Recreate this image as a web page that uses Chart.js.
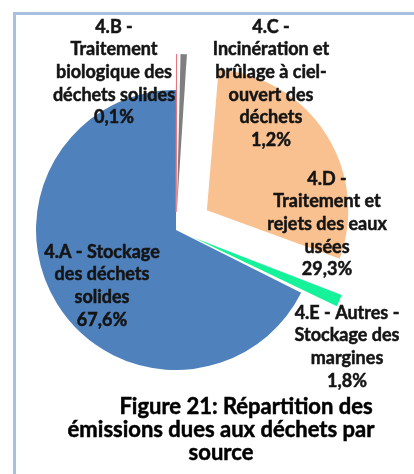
<!DOCTYPE html>
<html>
<head>
<meta charset="utf-8">
<script src="https://cdn.jsdelivr.net/npm/chart.js@4.4.1/dist/chart.umd.min.js"></script>
<style>
  body { margin: 0; background: #fff; }
  #wrap { position: relative; width: 414px; height: 474px; }
  #frame { position: absolute; left: 13px; top: 12px; width: 401px; height: 462px;
           border-top: 3px solid #a9bfe0; border-left: 3px solid #a9bfe0; box-sizing: border-box; }
  canvas { position: absolute; left: 0; top: 0; }
</style>
</head>
<body>
<div id="wrap">
  <div id="frame"></div>
  <canvas id="pie" width="414" height="474"></canvas>
</div>
<script>
const categories = [
    ['4.A - Stockage', 'des déchets', 'solides'],
    ['4.B -', 'Traitement', 'biologique des', 'déchets solides'],
    ['4.C -', 'Incinération et', 'brûlage à ciel-', 'ouvert des', 'déchets'],
    ['4.D -', 'Traitement et', 'rejets des eaux', 'usées'],
    ['4.E - Autres -', 'Stockage des', 'margines']
];
const values = [67.6, 0.1, 1.2, 29.3, 1.8];
const colors = ['#4f81bd', '#e8737a', '#7f7f7f', '#f9c190', '#16f29a'];
const caption = ['Figure 21: Répartition des', 'émissions dues aux déchets par', 'source'];

// how far each slice is pulled out, in px
const explode = [0, 36, 36, 38, 38];

// label block anchors (centre x, first line y)
const labelPos = [
    { x: 102, y: 252 },
    { x: 114, y: 27 },
    { x: 271, y: 27 },
    { x: 327, y: 179 },
    { x: 347, y: 313 }
];
const lineH = 22.6;

function fmt(v) {
    return v.toFixed(1).replace('.', ',') + '%';
}

const total = values.reduce((a, b) => a + b, 0);

// chart.js moves an arc by offset/4 * (2 - sin(circumference)), undo that
const offsets = values.map((v, i) => {
    const circ = Math.min(Math.PI, 2 * Math.PI * v / total);
    return 4 * explode[i] / (2 - Math.sin(circ));
});

function heavyText(ctx, t, x, y) {
    ctx.strokeText(t, x, y);
    ctx.fillText(t, x, y);
}

const sliceLabels = {
    id: 'sliceLabels',
    afterDatasetsDraw(chart) {
        const ctx = chart.ctx;
        ctx.save();
        ctx.fillStyle = ctx.strokeStyle = '#141414';
        ctx.lineWidth = 0.5;
        ctx.textAlign = 'center';
        ctx.textBaseline = 'middle';
        ctx.font = 'bold 18px Lato';
        categories.forEach((lines, i) => {
            const p = labelPos[i];
            lines.concat([fmt(values[i])]).forEach((t, k) => {
                heavyText(ctx, t, p.x, p.y + k * lineH);
            });
        });
        ctx.fillStyle = ctx.strokeStyle = '#000';
        ctx.font = 'bold 22px Lato';
        caption.forEach((t, k) => {
            const x = k === 0 ? 246 : 221;
            heavyText(ctx, t, x, 407 + k * 23);
        });
        ctx.restore();
    }
};

new Chart(document.getElementById('pie'), {
    type: 'pie',
    data: {
        labels: categories.map(c => c.join(' ')),
        datasets: [{
            data: values,
            backgroundColor: colors,
            borderColor: colors,
            borderWidth: [0, 1, 0, 0, 0],
            offset: offsets
        }]
    },
    options: {
        responsive: false,
        animation: false,
        rotation: 360 * (1 - values[0] / total),
        radius: 140,
        layout: { padding: { left: 20, right: 82, top: 80, bottom: 94 } },
        plugins: {
            legend: { display: false },
            tooltip: { enabled: false }
        }
    },
    plugins: [sliceLabels]
});
</script>
</body>
</html>
